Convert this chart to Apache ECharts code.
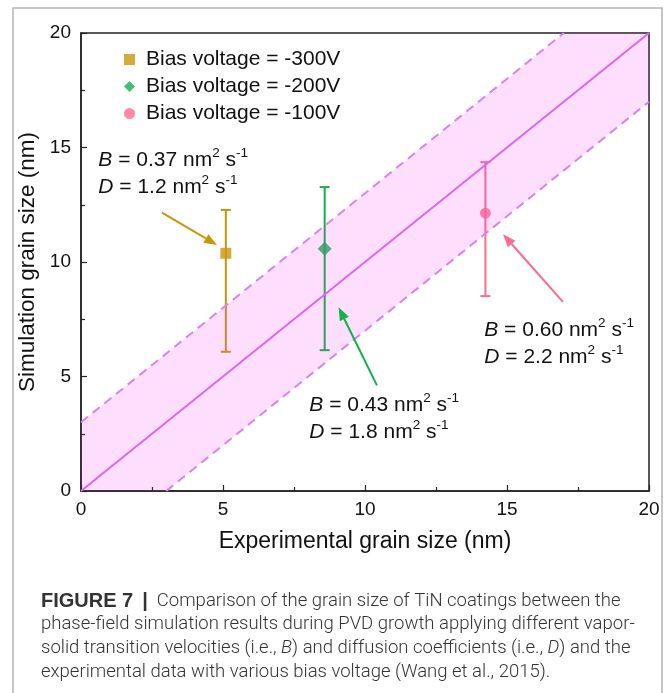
<!DOCTYPE html>
<html>
<head>
<meta charset="utf-8">
<script src="https://cdn.jsdelivr.net/npm/echarts@6/dist/echarts.min.js"></script>
<style>
html,body{margin:0;padding:0;background:#fff;}
#chart{width:671px;height:693px;}
</style>
</head>
<body>
<div id="chart"></div>
<script>
// ---------- data ----------
const xTicks = [0, 5, 10, 15, 20];
const yTicks = [0, 5, 10, 15, 20];
const seriesNames = ['Bias voltage = -300V', 'Bias voltage = -200V', 'Bias voltage = -100V'];
// [experimental, simulated, lower, upper]
const pts300 = [[5.1, 10.38, 6.08, 12.27]];
const pts200 = [[8.58, 10.58, 6.15, 13.27]];
const pts100 = [[14.24, 12.13, 8.51, 14.36]];
// parity line and +/-3 nm band
const parityLine = [[0, 0], [20, 20]];
const upperLine = [[0, 3], [17, 20]];
const lowerLine = [[3, 0], [20, 17]];
const bandPolygon = [[0, 0], [0, 3], [17, 20], [20, 20], [20, 17], [3, 0]];
// arrows: [x1, y1, x2, y2] in data units (tail -> head)
const arrow300 = [[2.85, 12.16, 4.79, 10.74]];
const arrow200 = [[10.42, 4.61, 9.07, 8.02]];
const arrow100 = [[16.97, 8.26, 14.86, 11.21]];
// annotation anchors [x, y of first line centre]
const annot300 = [[0.61, 14.46]];
const annot200 = [[8.04, 3.75]];
const annot100 = [[14.2, 7.03]];
const annotTexts = [
  '{i|B} = 0.37 nm{s|2} s{s|-1}\n{i|D} = 1.2 nm{s|2} s{s|-1}',
  '{i|B} = 0.43 nm{s|2} s{s|-1}\n{i|D} = 1.8 nm{s|2} s{s|-1}',
  '{i|B} = 0.60 nm{s|2} s{s|-1}\n{i|D} = 2.2 nm{s|2} s{s|-1}'
];
const captionLines = [
  '{b|FIGURE 7}{bar||}Comparison of the grain size of TiN coatings between the',
  'phase-field simulation results during PVD growth applying different vapor-',
  'solid transition velocities (i.e., {i|B}) and diffusion coefficients (i.e., {i|D}) and the',
  'experimental data with various bias voltage ({g|Wang et al., 2015}).'
];

// ---------- styles ----------
const GOLD = '#c9970c', GREEN = '#10b24a', PINK = '#ff6b8f';
const FONT = 'Liberation Sans, Arial, sans-serif';

const chart = echarts.init(document.getElementById('chart'), null, {renderer: 'canvas'});

function errorBarSeries(data, color) {
  return {
    type: 'custom', z: 2, silent: true, data: data,
    renderItem: function (params, api) {
      const x = api.value(0), lo = api.value(2), hi = api.value(3);
      const top = api.coord([x, hi]), bot = api.coord([x, lo]);
      const cap = 5;
      const st = {stroke: color, lineWidth: 2};
      return {type: 'group', children: [
        {type: 'line', shape: {x1: top[0], y1: top[1], x2: bot[0], y2: bot[1]}, style: st},
        {type: 'line', shape: {x1: top[0] - cap, y1: top[1], x2: top[0] + cap, y2: top[1]}, style: st},
        {type: 'line', shape: {x1: bot[0] - cap, y1: bot[1], x2: bot[0] + cap, y2: bot[1]}, style: st}
      ]};
    }
  };
}
function arrowSeries(data, color) {
  return {
    type: 'custom', z: 6, silent: true, data: data,
    renderItem: function (params, api) {
      const a = api.coord([api.value(0), api.value(1)]);
      const b = api.coord([api.value(2), api.value(3)]);
      const ang = Math.atan2(b[1] - a[1], b[0] - a[0]);
      const L = 13, W = 5;
      const bx = b[0] - L * Math.cos(ang), by = b[1] - L * Math.sin(ang);
      const nx = -Math.sin(ang), ny = Math.cos(ang);
      return {type: 'group', children: [
        {type: 'line', shape: {x1: a[0], y1: a[1], x2: bx, y2: by}, style: {stroke: color, lineWidth: 2}},
        {type: 'polygon', shape: {points: [[b[0], b[1]], [bx + nx * W, by + ny * W], [bx - nx * W, by - ny * W]]}, style: {fill: color}}
      ]};
    }
  };
}
function annotSeries(data, text) {
  return {
    type: 'custom', z: 6, silent: true, data: data,
    renderItem: function (params, api) {
      const p = api.coord([api.value(0), api.value(1)]);
      return {type: 'text', x: p[0], y: p[1] - 13.5, style: {
        text: text, fill: '#111', font: '21px ' + FONT, lineHeight: 27,
        align: 'left', verticalAlign: 'top',
        rich: {
          i: {fontStyle: 'italic', fontSize: 21, fontFamily: FONT, lineHeight: 27},
          s: {fontSize: 13.5, fontFamily: FONT, verticalAlign: 'top', lineHeight: 20}
        }
      }};
    }
  };
}
function lineSeries(data, color, dashed) {
  return {
    type: 'line', z: 4, silent: true, data: data, symbol: 'none',
    lineStyle: {color: color, width: 2, type: dashed ? [9, 6] : 'solid'}
  };
}

const option = {
  backgroundColor: '#fff',
  animation: false,
  grid: {left: 81, top: 33, right: 22, bottom: 202, show: true, borderColor: '#222', borderWidth: 1.5, backgroundColor: 'transparent'},
  xAxis: {
    type: 'value', min: xTicks[0], max: xTicks[xTicks.length - 1], interval: 5,
    name: 'Experimental grain size (nm)', nameLocation: 'middle', nameGap: 39,
    nameTextStyle: {fontSize: 23, fontFamily: FONT, color: '#111'},
    axisLine: {show: true, onZero: false, lineStyle: {color: '#222', width: 1.5}},
    axisTick: {show: true, inside: true, length: 6, lineStyle: {color: '#222', width: 1.2}},
    minorTick: {show: true, splitNumber: 2, length: 4, lineStyle: {color: '#222', width: 1.2}},
    axisLabel: {fontSize: 19, fontFamily: FONT, color: '#111', margin: 9},
    splitLine: {show: false}
  },
  yAxis: {
    type: 'value', min: yTicks[0], max: yTicks[yTicks.length - 1], interval: 5,
    name: 'Simulation grain size (nm)', nameLocation: 'middle', nameGap: 42,
    nameTextStyle: {fontSize: 22.5, fontFamily: FONT, color: '#111'},
    axisLine: {show: true, onZero: false, lineStyle: {color: '#222', width: 1.5}},
    axisTick: {show: true, inside: true, length: 6, lineStyle: {color: '#222', width: 1.2}},
    minorTick: {show: true, splitNumber: 2, length: 4, lineStyle: {color: '#222', width: 1.2}},
    axisLabel: {fontSize: 19, fontFamily: FONT, color: '#111', margin: 10},
    splitLine: {show: false}
  },
  legend: {
    orient: 'vertical', left: 119, top: 42, itemGap: 2, itemWidth: 11, itemHeight: 11,
    textStyle: {fontSize: 21, fontFamily: FONT, color: '#111', padding: [0, 0, 0, 6], lineHeight: 25},
    data: [
      {name: seriesNames[0], icon: 'rect', itemStyle: {color: GOLD}},
      {name: seriesNames[1], icon: 'diamond', itemStyle: {color: GREEN}},
      {name: seriesNames[2], icon: 'circle', itemStyle: {color: PINK}}
    ]
  },
  graphic: [
    {type: 'rect', z: -1, shape: {x: 13, y: 8, width: 649, height: 700}, style: {fill: 'none', stroke: '#b4b4b4', lineWidth: 1.5}},
    {type: 'group', left: 41, top: 591, children: captionLines.map(function (t, i) {
      return {type: 'text', x: 0, y: i * 24, style: {
        text: t, fill: '#333', font: '300 18.5px Roboto, ' + FONT,
        rich: {
          b: {fontWeight: 'bold', fontSize: 20, fontFamily: FONT, color: '#222'},
          bar: {fontWeight: 'bold', fontSize: 20, fontFamily: FONT, color: '#222', padding: [0, 9, 0, 9]},
          i: {fontStyle: 'italic', fontWeight: 300, fontSize: 18.5, fontFamily: 'Roboto'},
          g: {color: '#999', fontWeight: 300, fontSize: 18.5, fontFamily: 'Roboto'}
        }
      }};
    })}
  ],
  series: [
    errorBarSeries(pts300, GOLD),
    errorBarSeries(pts200, GREEN),
    errorBarSeries(pts100, PINK),
    {name: seriesNames[0], type: 'scatter', z: 2, data: pts300.map(p => [p[0], p[1]]), symbol: 'rect', symbolSize: 11, itemStyle: {color: GOLD}},
    {name: seriesNames[1], type: 'scatter', z: 2, data: pts200.map(p => [p[0], p[1]]), symbol: 'diamond', symbolSize: 14, itemStyle: {color: GREEN}},
    {name: seriesNames[2], type: 'scatter', z: 2, data: pts100.map(p => [p[0], p[1]]), symbol: 'circle', symbolSize: 11, itemStyle: {color: PINK}},
    {
      type: 'custom', z: 3, silent: true, data: [0],
      renderItem: function (params, api) {
        return {type: 'polygon', shape: {points: bandPolygon.map(p => api.coord(p))}, style: {fill: 'rgba(240,40,240,0.15)'}};
      }
    },
    lineSeries(parityLine, '#de66f0', false),
    lineSeries(upperLine, '#d983f0', true),
    lineSeries(lowerLine, '#d983f0', true),
    arrowSeries(arrow300, GOLD),
    arrowSeries(arrow200, GREEN),
    arrowSeries(arrow100, PINK),
    annotSeries(annot300, annotTexts[0]),
    annotSeries(annot200, annotTexts[1]),
    annotSeries(annot100, annotTexts[2])
  ]
};
chart.setOption(option);
</script>
</body>
</html>
